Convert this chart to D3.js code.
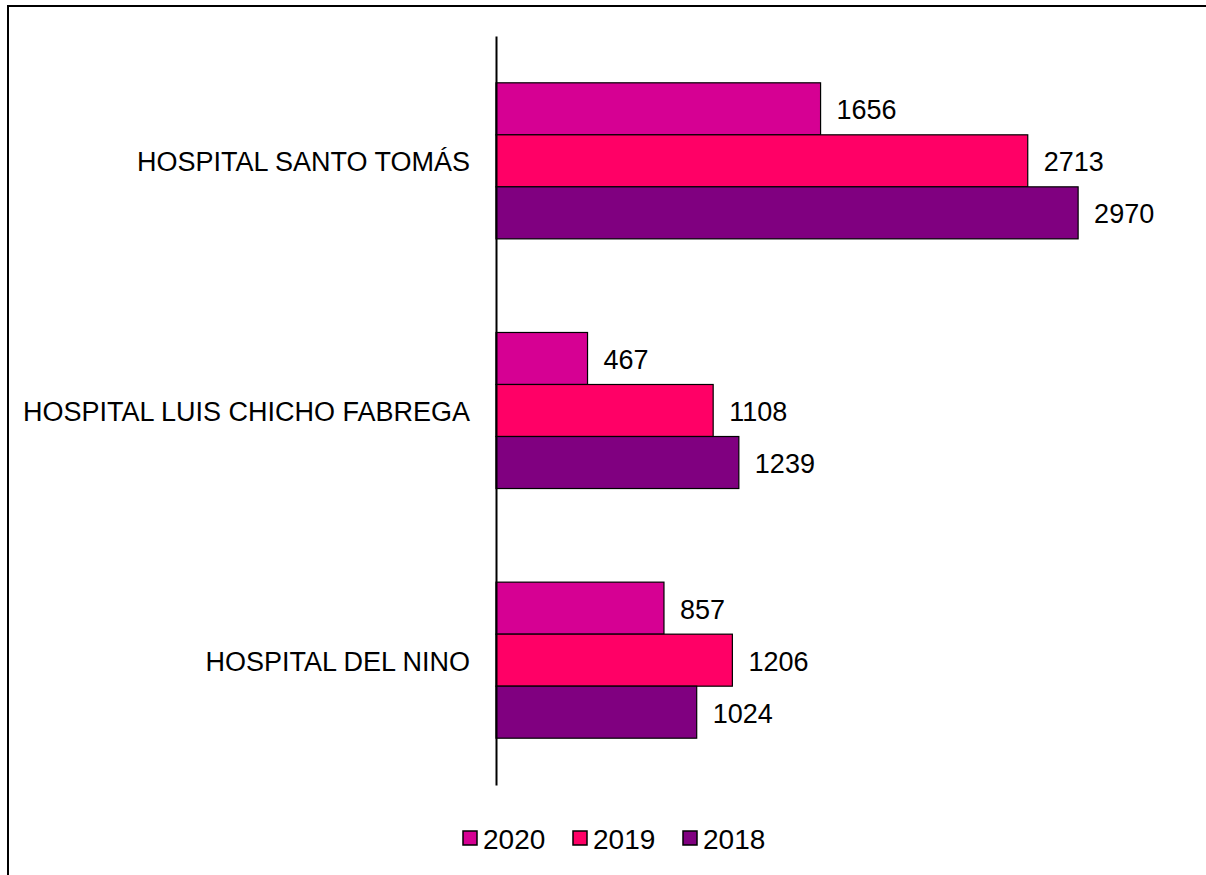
<!DOCTYPE html>
<html>
<head>
<meta charset="utf-8">
<script src="https://cdn.jsdelivr.net/npm/d3@7"></script>
<style>
  body { margin: 0; background: #fff; }
  text { font-family: "Liberation Sans", Arial, sans-serif; fill: #000; }
</style>
</head>
<body>
<svg id="chart" width="1206" height="875"></svg>
<script>
const hospitals = ['HOSPITAL SANTO TOMÁS', 'HOSPITAL LUIS CHICHO FABREGA', 'HOSPITAL DEL NINO'];
const years = ['2020', '2019', '2018'];
const values2020 = [1656, 467, 857];
const values2019 = [2713, 1108, 1206];
const values2018 = [2970, 1239, 1024];
const colors = ['#d60093', '#ff0066', '#800080'];

const series = [values2020, values2019, values2018];
const rows = hospitals.map((h, i) => ({
  hospital: h,
  vals: years.map((yr, j) => ({ year: yr, value: series[j][i] }))
}));

const svg = d3.select('#chart');

// outer frame (right/bottom edges run off the picture)
svg.append('rect')
  .attr('x', 8).attr('y', 6)
  .attr('width', 1220).attr('height', 900)
  .attr('fill', 'none').attr('stroke', '#000').attr('stroke-width', 2);

const x = d3.scaleLinear().domain([0, 3500]).range([496, 1182]);
const y = d3.scaleBand().domain(hospitals).range([36, 785]).paddingInner(0.375).paddingOuter(0.1875);
const yInner = d3.scaleBand().domain(years).range([0, y.bandwidth()]);

const groups = svg.selectAll('g.grp')
  .data(rows)
  .enter().append('g')
    .attr('class', 'grp')
    .attr('transform', d => `translate(0,${y(d.hospital)})`);

groups.selectAll('rect')
  .data(d => d.vals)
  .enter().append('rect')
    .attr('x', x(0))
    .attr('y', d => yInner(d.year))
    .attr('width', d => x(d.value) - x(0))
    .attr('height', yInner.bandwidth())
    .attr('fill', (d, i) => colors[i])
    .attr('stroke', '#000')
    .attr('stroke-width', 1.2);

groups.selectAll('text.value')
  .data(d => d.vals)
  .enter().append('text')
    .attr('class', 'value')
    .attr('x', d => x(d.value) + 16)
    .attr('y', d => yInner(d.year) + yInner.bandwidth() / 2 + 1)
    .attr('dy', '0.35em')
    .attr('font-size', 27)
    .text(d => d.value);

// category axis
const yAxis = d3.axisLeft(y).tickSize(0).tickPadding(26);
const ax = svg.append('g')
  .attr('transform', `translate(${x(0)},0)`)
  .call(yAxis);
ax.attr('font-size', 27);
ax.select('.domain').attr('stroke', '#000').attr('stroke-width', 2);
ax.selectAll('text')
  .attr('font-size', 27)
  .attr('y', 2)
  .attr('font-family', '"Liberation Sans", Arial, sans-serif')
  .attr('fill', '#000');

// legend
const legend = svg.append('g').attr('transform', 'translate(463,838)');
const legX = [0, 110, 220];
years.forEach((yr, i) => {
  const g = legend.append('g').attr('transform', `translate(${legX[i]},0)`);
  g.append('rect')
    .attr('x', 0).attr('y', -7)
    .attr('width', 14).attr('height', 14)
    .attr('fill', colors[i]).attr('stroke', '#000').attr('stroke-width', 1.5);
  g.append('text')
    .attr('x', 20).attr('y', 1).attr('dy', '0.35em')
    .attr('font-size', 28)
    .text(yr);
});
</script>
</body>
</html>
